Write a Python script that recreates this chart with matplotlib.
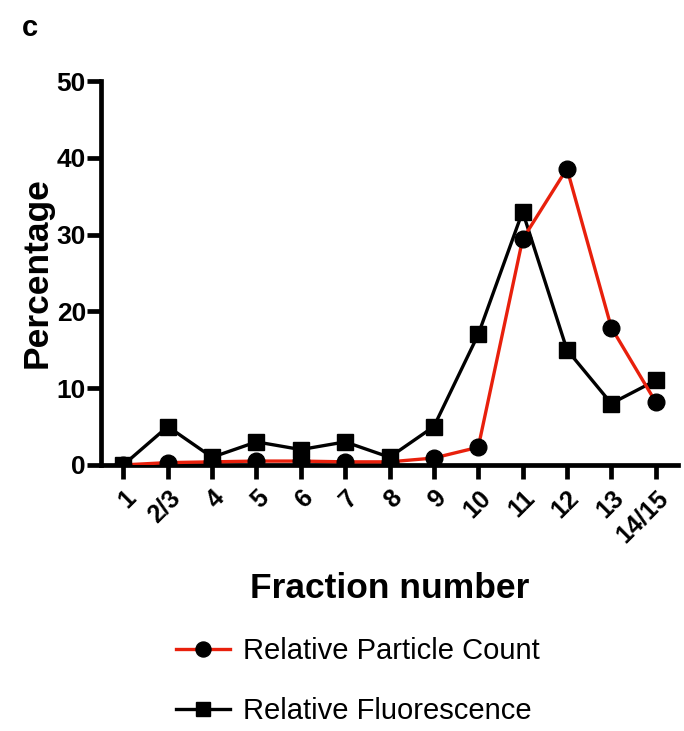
import matplotlib
matplotlib.use("Agg")
import matplotlib.pyplot as plt

plt.rcParams['font.family'] = ['Liberation Sans', 'DejaVu Sans']

fractions = ["1", "2/3", "4", "5", "6", "7", "8", "9", "10", "11", "12", "13", "14/15"]
particle_count = [0.0, 0.3, 0.4, 0.5, 0.5, 0.4, 0.4, 0.9, 2.3, 29.4, 38.6, 17.9, 8.2]
fluorescence = [0.0, 5.0, 1.0, 3.0, 2.0, 3.0, 1.0, 5.0, 17.0, 33.0, 15.0, 8.0, 11.0]

fig = plt.figure(figsize=(6.84, 7.31), dpi=100)
ax = fig.add_axes([0.148, 0.364, 0.843, 0.525])

x = list(range(len(fractions)))
ax.plot(x, particle_count, color="#e8200c", lw=2.4, marker="o", ms=12,
        mfc="black", mec="black", label="Relative Particle Count", zorder=3)
ax.plot(x, fluorescence, color="black", lw=2.4, marker="s", ms=11,
        mfc="black", mec="black", label="Relative Fluorescence", zorder=2)

ax.set_xlim(-0.5, 12.5)
ax.set_ylim(0, 50)
ax.set_yticks([0, 10, 20, 30, 40, 50])
ax.set_xticks(x)
ax.set_xticklabels(fractions, rotation=45, ha="right", rotation_mode="anchor",
                   fontweight="bold", fontsize=18)
for lbl in ax.get_yticklabels():
    lbl.set_fontweight("bold")
    lbl.set_fontsize(19)

for s in ["top", "right"]:
    ax.spines[s].set_visible(False)
for s in ["left", "bottom"]:
    ax.spines[s].set_linewidth(3.4)
ax.spines["bottom"].set_zorder(1)
ax.tick_params(axis="both", direction="out", width=3.4, length=10)
ax.tick_params(axis="y", pad=1)
ax.tick_params(axis="x", pad=5)

ax.set_ylabel("Percentage", fontsize=25.5, fontweight="bold", labelpad=2)
ax.set_xlabel("Fraction number", fontsize=25.5, fontweight="bold", labelpad=18)

fig.text(0.032, 0.962, "c", fontsize=21, fontweight="bold", ha="left", va="center")

fig.legend(loc="upper center", bbox_to_anchor=(0.523, 0.164), frameon=False,
           fontsize=21, handlelength=1.85, labelspacing=1.1, handletextpad=0.45,
           markerscale=0.9)

fig.savefig("out.png", dpi=100)
